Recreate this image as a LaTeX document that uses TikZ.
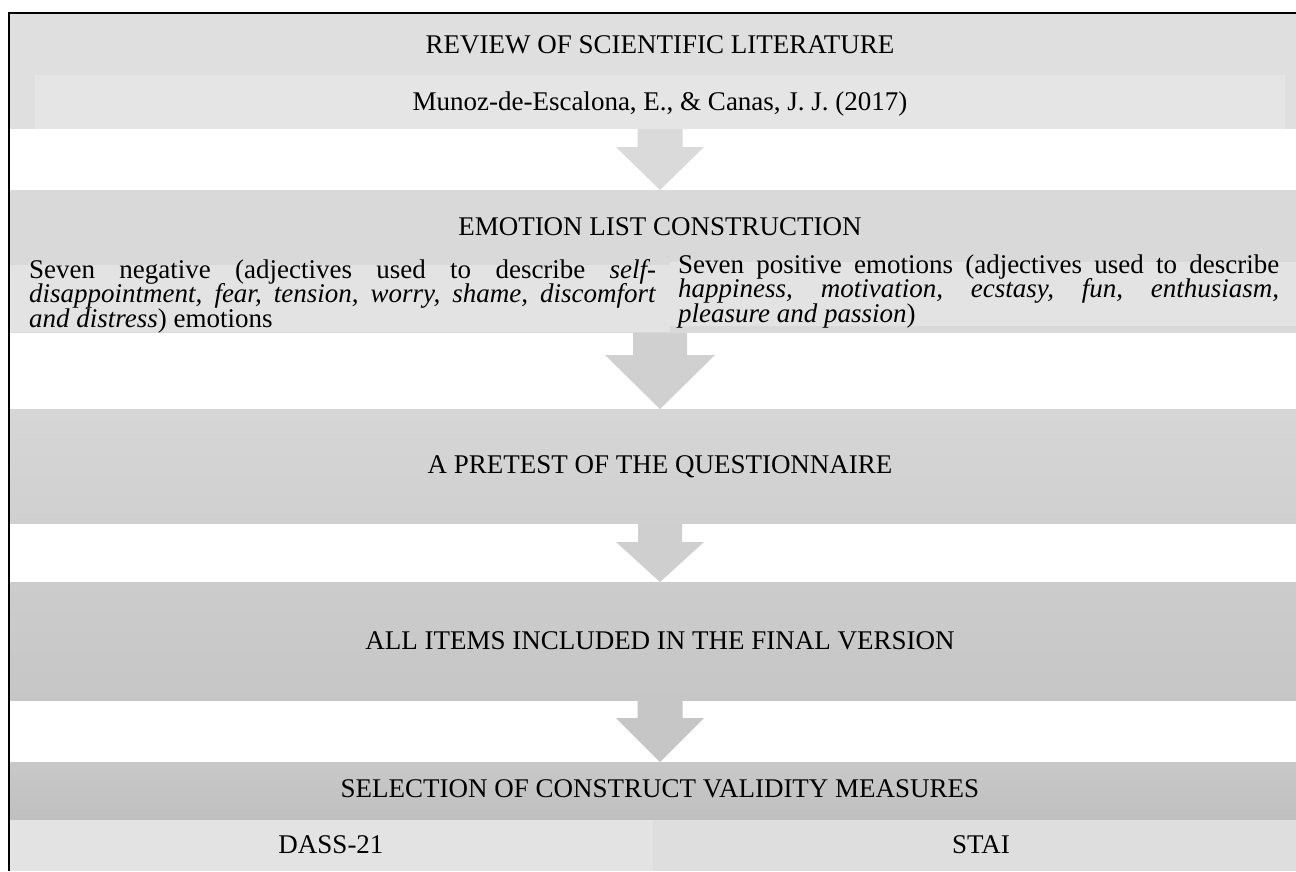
\documentclass[tikz,border=0pt]{standalone}
\usepackage{fontspec}
\setmainfont{Liberation Serif}
\usetikzlibrary{calc}
\definecolor{pone}{HTML}{DFDFDF}
\definecolor{pones}{HTML}{E5E5E5}
\definecolor{ptwo}{HTML}{D9D9D9}
\definecolor{ptwos}{HTML}{E3E3E3}
\definecolor{pthreet}{HTML}{D6D6D6}
\definecolor{pthreeb}{HTML}{D0D0D0}
\definecolor{pfourt}{HTML}{CCCCCC}
\definecolor{pfourb}{HTML}{C6C6C6}
\definecolor{pfivet}{HTML}{C8C8C8}
\definecolor{pfiveb}{HTML}{C0C0C0}
\definecolor{psixa}{HTML}{E3E3E3}
\definecolor{psixb}{HTML}{DEDEDE}
\definecolor{aone}{HTML}{DADADA}
\definecolor{atwo}{HTML}{D0D0D0}
\definecolor{athree}{HTML}{CFCFCF}
\definecolor{afour}{HTML}{C6C6C6}
\newcommand\flowarrow[6]{%
  \fill[#6] ($(#1.south -| cx)+(-#3,0)$) -- ($(#1.south -| cx)+(#3,0)$)
    -- ($(#1.south -| cx)+(#3,#5)$) -- ($(#1.south -| cx)+(#4,#5)$)
    -- (#2.north -| cx) -- ($(#1.south -| cx)+(-#4,#5)$)
    -- ($(#1.south -| cx)+(-#3,#5)$) -- cycle;}
\begin{document}
\begin{tikzpicture}[x=1pt,y=-1pt,
  panel/.style={rectangle,inner sep=0pt,outer sep=0pt,anchor=north west},
  ttl/.style={inner sep=0pt,anchor=base,font=\fontsize{27}{24.5}\selectfont},
  para/.style={inner sep=0pt,anchor=base west,font=\fontsize{27}{24.5}\selectfont}]
\useasboundingbox (0,0) rectangle (1296,871);
\fill[white] (0,0) rectangle (1296,871);
\coordinate (cx) at (660,0);
% panels
\node[panel,fill=pone,minimum width=1286,minimum height=115] (p1) at (10,14) {};
\node[panel,fill=pones,minimum width=1250,minimum height=54] (m1) at (35,75) {};
\node[panel,fill=ptwo,minimum width=1286,minimum height=143] (p2) at (10,190) {};
\node[panel,fill=ptwos,minimum width=660,minimum height=67] (negbox) at (10,265) {};
\node[panel,fill=ptwos,minimum width=626,minimum height=64] (posbox) at (670,262) {};
\node[panel,top color=pthreet,bottom color=pthreeb,minimum width=1286,minimum height=114] (p3) at (10,409) {};
\node[panel,top color=pfourt,bottom color=pfourb,minimum width=1286,minimum height=118] (p4) at (10,582) {};
\node[panel,top color=pfivet,bottom color=pfiveb,minimum width=1286,minimum height=58] (p5) at (10,762) {};
\node[panel,fill=psixa,minimum width=643,minimum height=51] (dass) at (10,820) {};
\node[panel,fill=psixb,minimum width=643,minimum height=51] (stai) at (653,820) {};
% arrows
\flowarrow{p1}{p2}{22.5}{44}{18}{aone}
\flowarrow{p2}{p3}{27}{55}{22}{atwo}
\flowarrow{p3}{p4}{22}{44}{19}{athree}
\flowarrow{p4}{p5}{22.5}{44}{18}{afour}
% texts
\node[ttl] (t1) at (660,53) {REVIEW OF SCIENTIFIC LITERATURE};
\node[ttl] (tm) at (660,110) {Munoz-de-Escalona, E., \& Canas, J. J. (2017)};
\node[ttl] (t2) at (660,235) {EMOTION LIST CONSTRUCTION};
\node[para] (nega) at (29,278) {\makebox[627pt][s]{Seven negative (adjectives used to describe \textit{self-}}};
\node[para] (negb) at (29,302.5) {\makebox[627pt][s]{\textit{disappointment, fear, tension, worry, shame, discomfort}}};
\node[para] (negc) at (29,327) {\textit{and distress}) emotions};
\node[para] (posa) at (678,273) {\makebox[601pt][s]{Seven positive emotions (adjectives used to describe}};
\node[para] (posb) at (678,297.5) {\makebox[601pt][s]{\textit{happiness, motivation, ecstasy, fun, enthusiasm,}}};
\node[para] (posc) at (678,322) {\textit{pleasure and passion})};
\node[ttl] (t3) at (660,473) {A PRETEST OF THE QUESTIONNAIRE};
\node[ttl] (t4) at (660,649) {ALL ITEMS INCLUDED IN THE FINAL VERSION};
\node[ttl] (t5) at (660,797) {SELECTION OF CONSTRUCT VALIDITY MEASURES};
\node[ttl] (t6) at (331,853) {DASS-21};
\node[ttl] (t7) at (981,853) {STAI};
% frame
\draw[line width=2.5pt] (9,871) -- (9,13) -- (1296,13);
\end{tikzpicture}
\end{document}
